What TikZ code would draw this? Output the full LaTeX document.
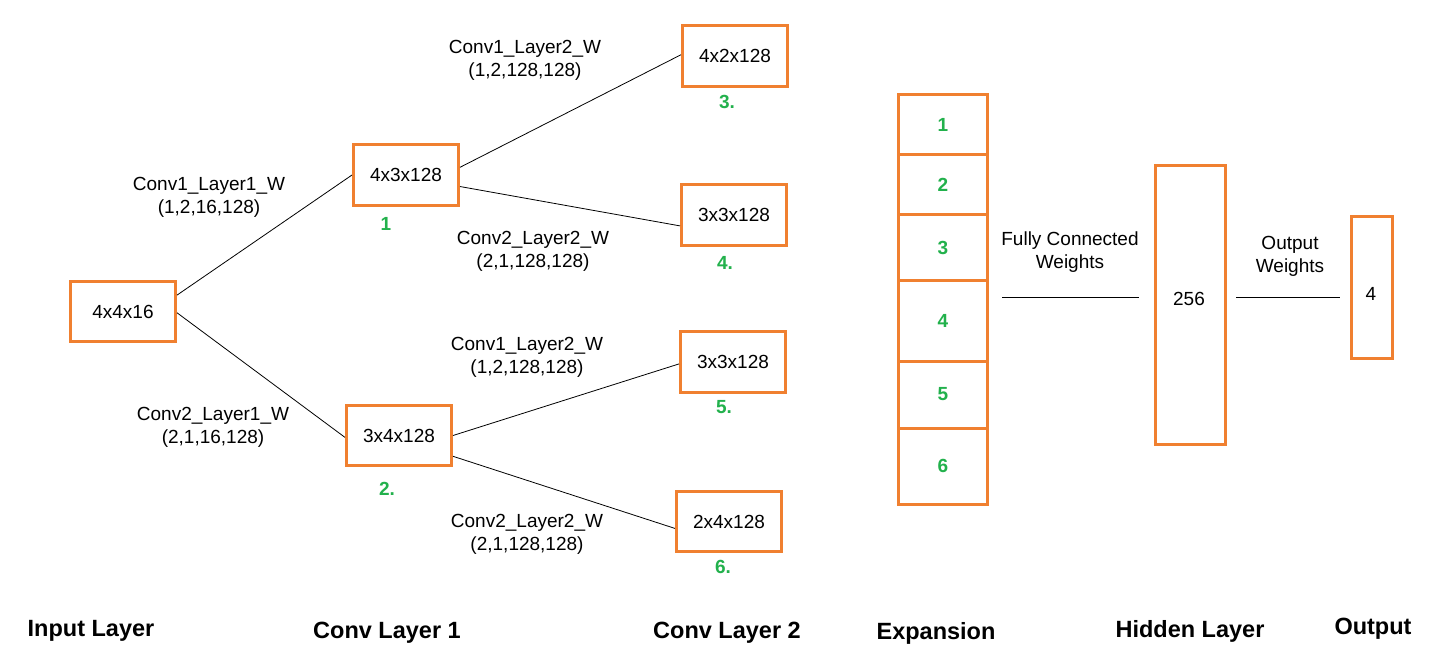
\documentclass[tikz,border=0pt]{standalone}
\usepackage{fontspec}
\setmainfont{Liberation Sans}
\usetikzlibrary{calc}
\definecolor{boxorange}{RGB}{240,128,48}
\definecolor{numgreen}{RGB}{34,177,76}
\begin{document}
\begin{tikzpicture}[x=1pt,y=-1pt,
  layerbox/.style={draw=boxorange,line width=3pt,inner sep=0pt,font=\fontsize{19}{23}\selectfont},
  wlabel/.style={font=\fontsize{19}{23}\selectfont,inner sep=0pt,align=center},
  gnum/.style={text=numgreen,font=\fontsize{19}{23}\selectfont\bfseries,inner sep=0pt},
  cellbox/.style={layerbox,minimum width=89pt,text=numgreen,font=\fontsize{19}{23}\selectfont\bfseries},
  title/.style={font=\fontsize{23.5}{26}\selectfont\bfseries,inner sep=0pt},
  conn/.style={draw=black,line width=0.8pt}]
\useasboundingbox (0,0) rectangle (1451,667);
\fill[white] (0,0) rectangle (1451,667);
% boxes
\node[layerbox,minimum width=105pt,minimum height=60pt] (in) at (123,311.5) {4x4x16};
\node[layerbox,minimum width=105pt,minimum height=61pt] (a1) at (406,175) {4x3x128};
\node[layerbox,minimum width=105pt,minimum height=60pt] (b1) at (399,435.5) {3x4x128};
\node[layerbox,minimum width=105pt,minimum height=61pt] (a2) at (735,56) {4x2x128};
\node[layerbox,minimum width=105pt,minimum height=61pt] (b2) at (734,215) {3x3x128};
\node[layerbox,minimum width=105pt,minimum height=61pt] (c2) at (733,362) {3x3x128};
\node[layerbox,minimum width=105pt,minimum height=60pt] (d2) at (729,521.5) {2x4x128};
% green labels
\node[gnum] (n1) at (386,224) {1};
\node[gnum] (n2) at (387,489) {2.};
\node[gnum] (n3) at (727,102) {3.};
\node[gnum] (n4) at (725,263) {4.};
\node[gnum] (n5) at (724,407) {5.};
\node[gnum] (n6) at (723,567) {6.};
% expansion cells
\node[cellbox,minimum height=60pt] (e1) at (943,124.5) {1};
\node[cellbox,minimum height=60pt] (e2) at (943,184.5) {2};
\node[cellbox,minimum height=66pt] (e3) at (943,247.5) {3};
\node[cellbox,minimum height=81pt] (e4) at (943,321) {4};
\node[cellbox,minimum height=67pt] (e5) at (943,394.5) {5};
\node[cellbox,minimum height=76pt] (e6) at (943,466) {6};
% hidden and output
\node[layerbox,minimum width=70pt,minimum height=279pt] (hid) at (1190.5,305) {};
\node[font=\fontsize{19}{23}\selectfont,inner sep=0pt] (hidt) at (1189,299) {256};
\node[layerbox,minimum width=41pt,minimum height=142pt] (out) at (1372,287.5) {};
\node[font=\fontsize{19}{23}\selectfont,inner sep=0pt] (outt) at (1371,294) {4};
% connectors
\draw[conn] ($(in.north east)!0.24!(in.south east)$) -- ($(a1.north west)!0.5!(a1.south west)$);
\draw[conn] ($(in.north east)!0.52!(in.south east)$) -- ($(b1.north west)!0.53!(b1.south west)$);
\draw[conn] ($(a1.north east)!0.38!(a1.south east)$) -- ($(a2.north west)!0.48!(a2.south west)$);
\draw[conn] ($(a1.north east)!0.68!(a1.south east)$) -- ($(b2.north west)!0.67!(b2.south west)$);
\draw[conn] ($(b1.north east)!0.5!(b1.south east)$) -- ($(c2.north west)!0.53!(c2.south west)$);
\draw[conn] ($(b1.north east)!0.83!(b1.south east)$) -- ($(d2.north west)!0.61!(d2.south west)$);
\coordinate (fcA) at (1002,297);
\coordinate (fcB) at (1139,297);
\coordinate (owA) at (1236,297);
\coordinate (owB) at (1340,297);
\draw[conn] (fcA) -- (fcB);
\draw[conn] (owA) -- (owB);
% weight labels
\node[wlabel] (w1) at (209,197) {Conv1\_Layer1\_W\\(1,2,16,128)};
\node[wlabel] (w2) at (213,427) {Conv2\_Layer1\_W\\(2,1,16,128)};
\node[wlabel] (w3) at (525,60) {Conv1\_Layer2\_W\\(1,2,128,128)};
\node[wlabel] (w4) at (533,251) {Conv2\_Layer2\_W\\(2,1,128,128)};
\node[wlabel] (w5) at (527,357) {Conv1\_Layer2\_W\\(1,2,128,128)};
\node[wlabel] (w6) at (527,534) {Conv2\_Layer2\_W\\(2,1,128,128)};
\node[wlabel] (fcw) at (1070,252) {Fully Connected\\Weights};
\node[wlabel] (ow) at (1290,256) {Output\\Weights};
% titles
\node[title] (t1) at (91,631) {Input Layer};
\node[title] (t2) at (387,633) {Conv Layer 1};
\node[title] (t3) at (727,633) {Conv Layer 2};
\node[title] (t4) at (936,633) {Expansion};
\node[title] (t5) at (1190,631) {Hidden Layer};
\node[title] (t6) at (1373,629) {Output};
\end{tikzpicture}
\end{document}
